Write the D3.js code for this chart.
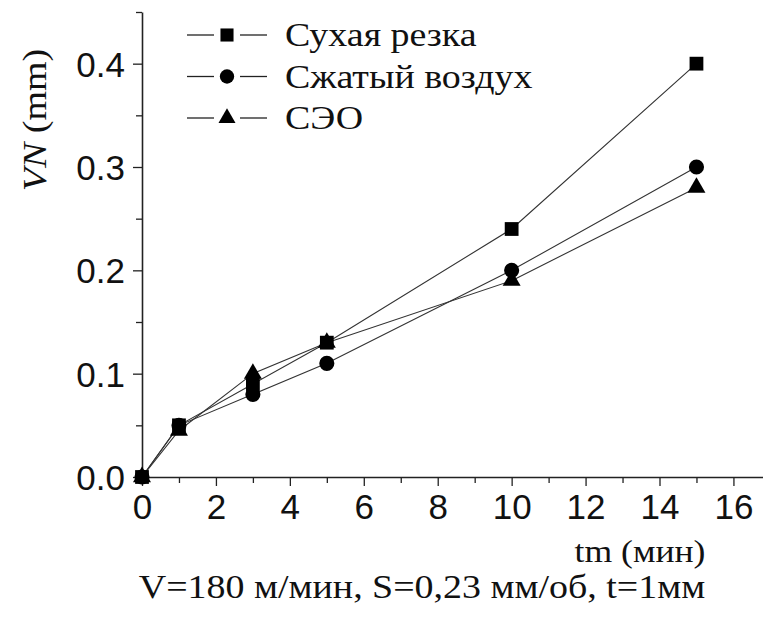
<!DOCTYPE html>
<meta charset="utf-8">
<style>
body { margin: 0; background: #fff; }
svg { display: block; }
.tick text { font-family: "Liberation Sans", Arial, sans-serif; font-size: 35px; fill: #111; }
.serif { font-family: "Liberation Serif", "Times New Roman", serif; fill: #111; }
</style>
<svg width="763" height="621"></svg>
<script src="https://d3js.org/d3.v7.min.js"></script>
<script>

var times = [0, 1, 3, 5, 10, 15];
var dryCut = [0, 0.05, 0.09, 0.13, 0.24, 0.40];
var compressedAir = [0, 0.05, 0.08, 0.11, 0.20, 0.30];
var seo = [0, 0.045, 0.10, 0.13, 0.19, 0.28];

var seriesNames = ["Сухая резка", "Сжатый воздух", "СЭО"];
var xTicks = [0, 2, 4, 6, 8, 10, 12, 14, 16];
var yTicks = [0.0, 0.1, 0.2, 0.3, 0.4];

var svg = d3.select("svg");

var x = d3.scaleLinear().domain([0, 16.8]).range([142, 763]);
var y = d3.scaleLinear().domain([0, 0.45]).range([477, 12]);

var stretch = 1.15;

var series = [
  { name: seriesNames[0], values: dryCut, symbol: d3.symbolSquare, size: 190 },
  { name: seriesNames[1], values: compressedAir, symbol: d3.symbolCircle, size: 180 },
  { name: seriesNames[2], values: seo, symbol: d3.symbolTriangle, size: 140 }
];

// minor ticks
svg.append("g")
    .attr("transform", "translate(0,477)")
    .call(d3.axisBottom(x).tickValues(d3.range(1, 17, 2)).tickSize(6).tickFormat(""))
    .call(function(g) { g.select(".domain").remove(); });
svg.append("g")
    .attr("transform", "translate(142,0)")
    .call(d3.axisLeft(y).tickValues([0.05, 0.15, 0.25, 0.35, 0.45]).tickSize(6).tickFormat(""))
    .call(function(g) { g.select(".domain").remove(); });

var xAxis = svg.append("g")
    .attr("transform", "translate(0,477)")
    .call(d3.axisBottom(x).tickValues(xTicks).tickSize(9).tickPadding(8).tickSizeOuter(0));
var yAxis = svg.append("g")
    .attr("transform", "translate(142,0)")
    .call(d3.axisLeft(y).tickValues(yTicks).tickFormat(d3.format(".1f")).tickSize(9).tickPadding(8).tickSizeOuter(0));

svg.selectAll(".domain").attr("stroke", "#222").attr("stroke-width", 1.6);
svg.selectAll(".tick line").attr("stroke", "#222").attr("stroke-width", 1.3);
yAxis.selectAll(".tick text").attr("dy", "0.36em");

var line = d3.line()
    .x(function(d) { return x(d[0]); })
    .y(function(d) { return y(d[1]); });

series.forEach(function(s) {
  var pts = times.map(function(t, i) { return [t, s.values[i]]; });
  svg.append("path")
      .datum(pts)
      .attr("fill", "none")
      .attr("stroke", "#333")
      .attr("stroke-width", 1.1)
      .attr("d", line);
});

series.forEach(function(s) {
  var pts = times.map(function(t, i) { return [t, s.values[i]]; });
  svg.append("g").selectAll("path")
      .data(pts)
      .enter().append("path")
      .attr("transform", function(d) { return "translate(" + x(d[0]) + "," + y(d[1]) + ")"; })
      .attr("d", d3.symbol().type(s.symbol).size(s.size))
      .attr("fill", "#000");
});

// legend
var legend = svg.append("g");
series.forEach(function(s, i) {
  var ly = 35 + i * 41.5;
  var row = legend.append("g").attr("transform", "translate(0," + ly + ")");
  row.append("line").attr("x1", 187).attr("x2", 214).attr("stroke", "#222").attr("stroke-width", 1.3);
  row.append("line").attr("x1", 240).attr("x2", 267).attr("stroke", "#222").attr("stroke-width", 1.3);
  row.append("path")
      .attr("transform", "translate(227,0)")
      .attr("d", d3.symbol().type(s.symbol).size(s.size * 0.9))
      .attr("fill", "#000");
  row.append("text")
      .attr("class", "serif")
      .attr("transform", "translate(285,11) scale(" + stretch + ",1)")
      .attr("font-size", 33)
      .text(s.name);
});

// y axis label
svg.append("text")
    .attr("class", "serif")
    .attr("transform", "translate(46,120) rotate(-90) scale(" + stretch + ",1)")
    .attr("text-anchor", "middle")
    .attr("font-size", 33)
    .html('<tspan font-style="italic">VN</tspan> (mm)');

// x axis label
svg.append("text")
    .attr("class", "serif")
    .attr("transform", "translate(640,562) scale(" + stretch + ",1)")
    .attr("text-anchor", "middle")
    .attr("font-size", 31)
    .text("tm (мин)");

svg.append("text")
    .attr("class", "serif")
    .attr("transform", "translate(422,598) scale(" + stretch + ",1)")
    .attr("text-anchor", "middle")
    .attr("font-size", 33)
    .text("V=180 м/мин, S=0,23 мм/об, t=1мм");

</script>
